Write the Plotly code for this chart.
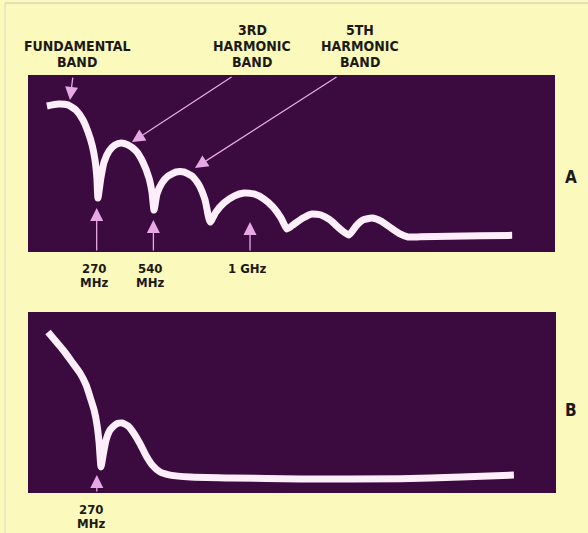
import plotly.graph_objects as go

# ---------------- data ----------------
# x: frequency in MHz, y: relative amplitude (0 = bottom of screen, 1 = top)
freq_a = [33, 86, 133, 171, 205, 229, 248, 262, 271, 276, 290, 305, 329, 357, 386, 419, 457,
          490, 519, 533, 543, 557, 581, 610, 648, 686, 724, 757, 786, 810, 838, 876, 924,
          971, 1019, 1067, 1110, 1148, 1176, 1210, 1252, 1295, 1338, 1381, 1429, 1471,
          1505, 1538, 1581, 1624, 1671, 1714, 1752, 1810, 1952, 2095, 2248]
amp_a = [0.825, 0.836, 0.831, 0.802, 0.746, 0.678, 0.605, 0.520, 0.418, 0.305, 0.418, 0.508,
         0.571, 0.605, 0.616, 0.605, 0.571, 0.508, 0.418, 0.339, 0.237, 0.328, 0.390, 0.429,
         0.452, 0.452, 0.429, 0.379, 0.294, 0.169, 0.226, 0.277, 0.316, 0.333, 0.328, 0.299,
         0.254, 0.192, 0.130, 0.158, 0.192, 0.215, 0.209, 0.181, 0.130, 0.096, 0.147, 0.181,
         0.192, 0.175, 0.136, 0.102, 0.085, 0.086, 0.089, 0.092, 0.094]

freq_b = [38, 110, 152, 190, 219, 238, 257, 271, 281, 290, 300, 314, 333, 362, 390, 419, 448,
          476, 505, 533, 571, 619, 714, 905, 1238, 1714, 2000, 2252]
amp_b = [0.890, 0.790, 0.724, 0.663, 0.597, 0.530, 0.459, 0.376, 0.276, 0.144, 0.210, 0.293,
         0.348, 0.381, 0.387, 0.370, 0.326, 0.271, 0.204, 0.155, 0.116, 0.099, 0.088, 0.083,
         0.078, 0.079, 0.088, 0.099]

# frequency markers (arrows from below) : label lines, frequency, amplitude of arrow tip
marker_labels_a = [["270", "MHz"], ["540", "MHz"], ["1 GHz"]]
marker_freqs_a = [270, 540, 1000]
marker_tips_a = [0.249, 0.181, 0.169]
marker_labels_b = [["270", "MHz"]]
marker_freqs_b = [270]
marker_tips_b = [0.099]

# band call-outs (arrows from above): label lines, tail freq, tip freq, tip amplitude
band_labels = [["FUNDAMENTAL", "BAND"], ["3RD", "HARMONIC", "BAND"], ["5TH", "HARMONIC", "BAND"]]
band_tail_freqs = [157, 919, 1419]
band_tip_freqs = [143, 438, 738]
band_tip_amps = [0.859, 0.621, 0.475]

panel_names = ["A", "B"]

# ---------------- styling ----------------
W, H = 588, 533
BG = "#fbf9bb"
SCREEN = "#3b0a3f"
TRACE = "#fdeefa"
ARROW = "#e6a9e6"
TEXT = "#1c1a14"
FONT = "Liberation Sans Narrow, DejaVu Sans Condensed, Arial Narrow, sans-serif"
X_RANGE = [-57, 2452]


def px_x(p):
    return p / W


def px_y(p):
    return 1 - p / H


fig = go.Figure()
fig.add_trace(go.Scatter(x=freq_a, y=amp_a, mode="lines", xaxis="x", yaxis="y",
                         line=dict(color=TRACE, width=7, shape="spline", smoothing=0.5),
                         hoverinfo="skip", showlegend=False))
fig.add_trace(go.Scatter(x=freq_b, y=amp_b, mode="lines", xaxis="x2", yaxis="y2",
                         line=dict(color=TRACE, width=7, shape="spline", smoothing=0.5),
                         hoverinfo="skip", showlegend=False))

axis_common = dict(showgrid=False, zeroline=False, showticklabels=False, showline=False,
                   ticks="", fixedrange=True)

annotations = []

# band call-outs
band_text_x = [77, 252, 360]
for lines, tf, hf, ha, cx in zip(band_labels, band_tail_freqs, band_tip_freqs, band_tip_amps, band_text_x):
    n = len(lines)
    for i, t in enumerate(lines):
        ypix = 62 - (n - 1 - i) * 16
        annotations.append(dict(text="<b>%s</b>" % t, x=px_x(cx), y=px_y(ypix), xref="paper", yref="paper",
                                showarrow=False, xanchor="center", yanchor="middle",
                                font=dict(family=FONT, size=14, color=TEXT)))
    annotations.append(dict(text="", x=hf, y=ha, ax=tf, ay=0.994, xref="x", yref="y", axref="x", ayref="y",
                            showarrow=True, arrowhead=2, arrowsize=2, arrowwidth=1.3, arrowcolor=ARROW))


# frequency markers
def add_markers(labels, freqs, tips, xr, yr, label_y, xshift):
    for lines, f, tip in zip(labels, freqs, tips):
        annotations.append(dict(text="", x=f, y=tip, ax=f, ay=0.0, xref=xr, yref=yr, axref=xr, ayref=yr,
                                showarrow=True, arrowhead=2, arrowsize=2, arrowwidth=1.3, arrowcolor=ARROW))
        for i, t in enumerate(lines):
            annotations.append(dict(text="<b>%s</b>" % t, x=f, y=px_y(label_y + i * 14), xref=xr, yref="paper",
                                    showarrow=False, xanchor="center", yanchor="middle", xshift=xshift,
                                    font=dict(family=FONT, size=13, color=TEXT)))


add_markers(marker_labels_a, marker_freqs_a, marker_tips_a, "x", "y", 268, -3)
add_markers(marker_labels_b, marker_freqs_b, marker_tips_b, "x2", "y2", 509, -6)

# panel letters
for name, ypix in zip(panel_names, [177, 410]):
    annotations.append(dict(text="<b>%s</b>" % name, x=px_x(571), y=px_y(ypix), xref="paper", yref="paper",
                            showarrow=False, xanchor="center", yanchor="middle",
                            font=dict(family=FONT, size=17, color=TEXT)))

fig.update_layout(
    width=W, height=H, autosize=False,
    margin=dict(l=0, r=0, t=0, b=0, pad=0),
    paper_bgcolor=BG, plot_bgcolor=SCREEN,
    xaxis=dict(domain=[px_x(28), px_x(555)], range=X_RANGE, anchor="y", **axis_common),
    yaxis=dict(domain=[px_y(252), px_y(75)], range=[0, 1], anchor="x", **axis_common),
    xaxis2=dict(domain=[px_x(28), px_x(556)], range=X_RANGE, anchor="y2", **axis_common),
    yaxis2=dict(domain=[px_y(493), px_y(312)], range=[0, 1], anchor="x2", **axis_common),
    annotations=annotations,
    shapes=[
        dict(type="line", xref="paper", yref="paper", x0=px_x(5), x1=1, y0=px_y(3), y1=px_y(3),
             line=dict(color="#c9c8b0", width=1), layer="below"),
        dict(type="line", xref="paper", yref="paper", x0=px_x(5), x1=px_x(5), y0=0, y1=px_y(3),
             line=dict(color="#dcdac0", width=1), layer="below"),
    ],
)

fig.write_html("out.html", config={"displayModeBar": False},
               post_script="document.body.style.margin='0px';document.body.style.overflow='hidden';")
